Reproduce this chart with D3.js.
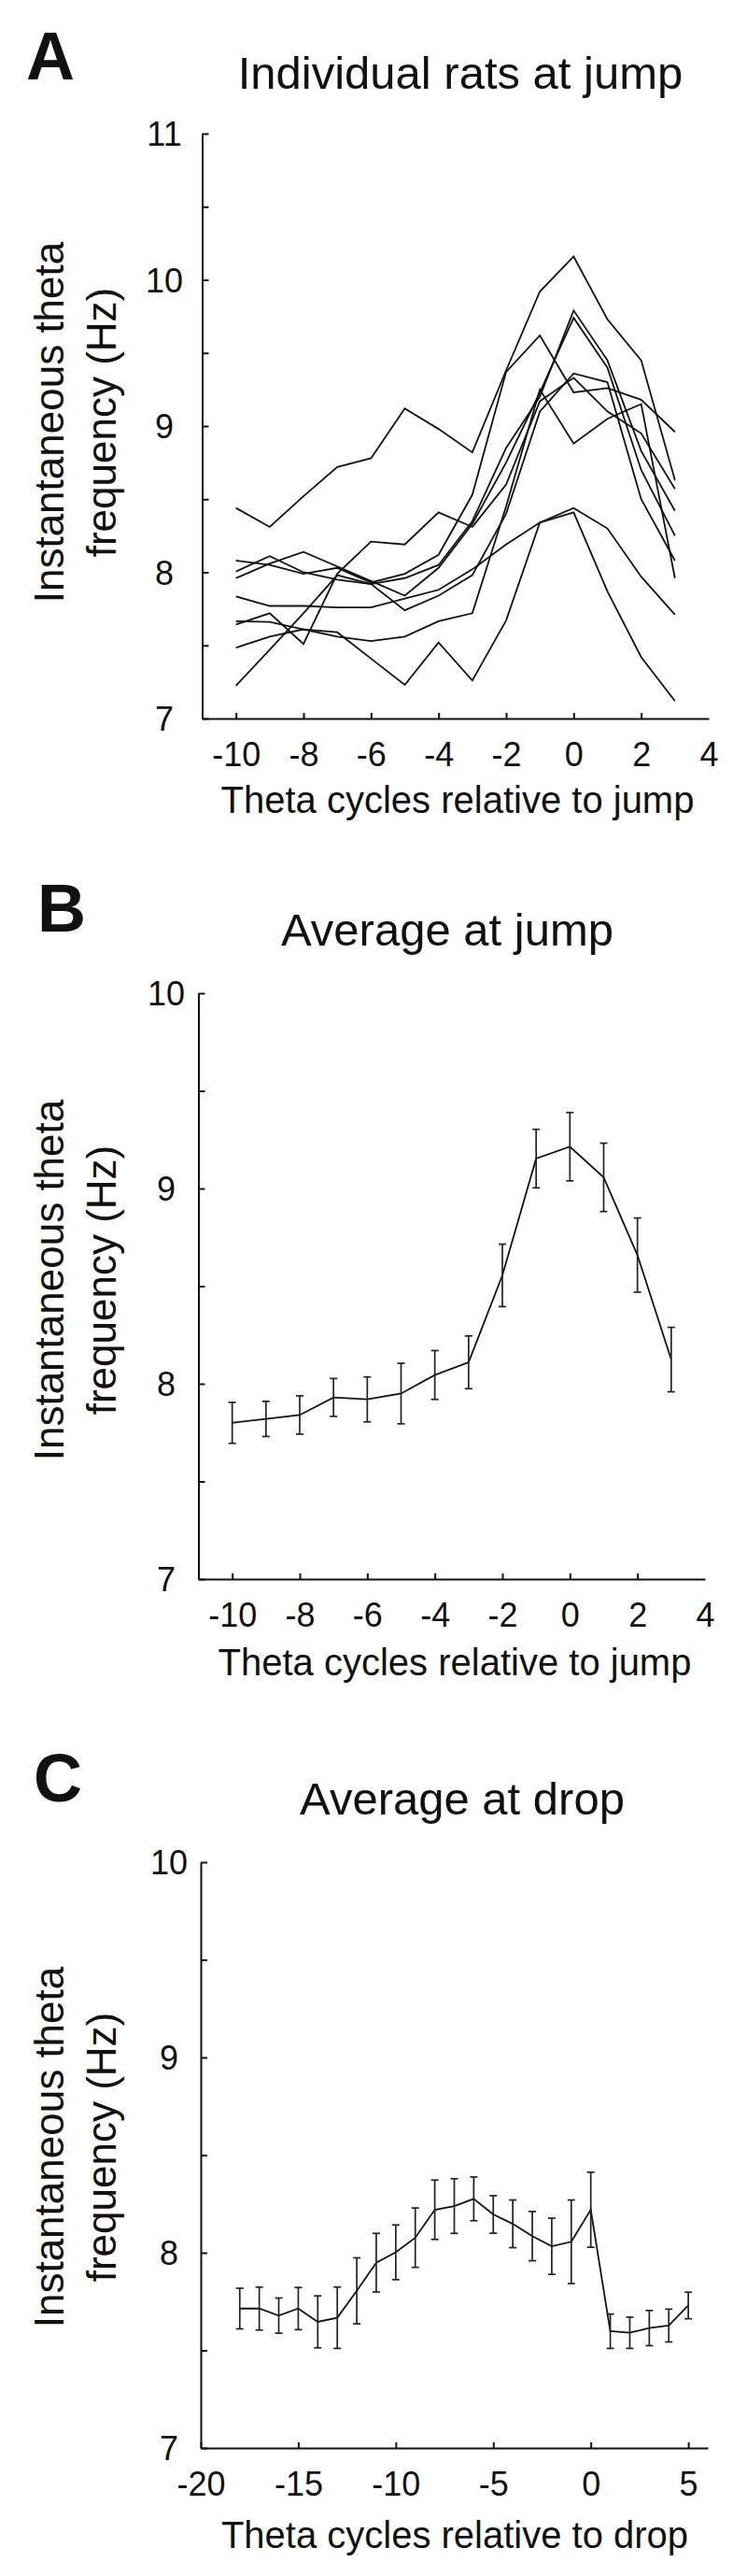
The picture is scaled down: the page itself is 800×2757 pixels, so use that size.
<!DOCTYPE html>
<html><head><meta charset="utf-8">
<script src="https://cdn.jsdelivr.net/npm/d3@7"></script>
<style>
html,body{margin:0;padding:0;background:#fff;}
svg{display:block;}
text{font-family:"Liberation Sans",Arial,Helvetica,sans-serif;fill:#111;}
</style>
</head><body>
<svg id="chart" width="800" height="2757"></svg>
<script>
// ---------- DATA ----------
const jumpCycles = [-10,-9,-8,-7,-6,-5,-4,-3,-2,-1,0,1,2,3];
const rat1 = [8.44,8.31,8.52,8.72,8.78,9.12,8.98,8.82,9.38,9.92,10.16,9.73,9.45,8.63];
const rat2 = [8.08,8.05,7.99,8.03,7.93,7.99,8.12,8.53,9.37,9.62,9.23,9.26,9.18,8.96];
const rat3 = [8.005,8.11,8.00,7.95,7.92,7.96,8.05,8.35,8.85,9.20,9.79,9.45,8.83,8.42];
const rat4 = [7.96,8.06,8.14,8.04,7.94,7.84,8.03,8.33,8.75,9.23,9.74,9.40,8.70,8.25];
const rat5 = [7.835,7.77,7.77,7.76,7.76,7.82,7.88,8.02,8.19,8.34,8.44,8.30,7.97,7.71];
const rat6 = [7.643,7.72,7.51,7.99,8.21,8.19,8.41,8.31,8.60,9.17,9.33,9.10,8.95,8.57];
const rat7 = [7.484,7.56,7.61,7.56,7.53,7.56,7.665,7.72,8.45,9.25,8.88,9.05,9.15,7.96];
const rat8 = [7.665,7.66,7.61,7.59,7.41,7.23,7.52,7.26,7.67,8.34,8.41,7.87,7.42,7.12];
const rat9 = [7.224,7.47,7.72,7.98,7.92,7.74,7.84,7.98,8.40,9.10,9.36,9.30,8.50,8.08];
const ratSeries = [rat1,rat2,rat3,rat4,rat5,rat6,rat7,rat8,rat9];

const jumpMean = [7.80,7.82,7.84,7.93,7.92,7.95,8.045,8.11,8.555,9.153,9.214,9.057,8.659,8.124];
const jumpSem  = [0.105,0.09,0.098,0.097,0.115,0.155,0.125,0.135,0.16,0.15,0.175,0.175,0.19,0.165];

const dropCycles = [-18,-17,-16,-15,-14,-13,-12,-11,-10,-9,-8,-7,-6,-5,-4,-3,-2,-1,0,1,2,3,4,5];
const dropMean = [7.714,7.714,7.678,7.714,7.646,7.667,7.805,7.949,8.002,8.077,8.22,8.239,8.276,8.196,8.148,8.085,8.033,8.056,8.22,7.598,7.59,7.614,7.627,7.73];
const dropSem  = [0.104,0.11,0.09,0.108,0.133,0.157,0.169,0.15,0.14,0.152,0.152,0.14,0.112,0.096,0.122,0.126,0.144,0.214,0.192,0.088,0.08,0.09,0.084,0.068];

const jumpXTicks = [-10,-8,-6,-4,-2,0,2,4];
const dropXTicks = [-20,-15,-10,-5,0,5];
const yTicksA = [7,7.5,8,8.5,9,9.5,10,10.5,11];
const yTicksBC = [7,7.5,8,8.5,9,9.5,10];

const panelLetters = ["A","B","C"];
const titles = ["Individual rats at jump","Average at jump","Average at drop"];
const xLabels = ["Theta cycles relative to jump","Theta cycles relative to jump","Theta cycles relative to drop"];
const yLabelLines = ["Instantaneous theta","frequency (Hz)"];

// ---------- LAYOUT ----------
const svg = d3.select("#chart");
const INK = "#111";

const panels = [
  {letter:{x:28,y:85}, title:{x:493,y:95}, xl:{x:490,y:870},
   x0:216.5,x1:759, y0:769,y1:143, xdom:[-11,4], ydom:[7,11],
   yTicks:yTicksA, xTicks:jumpXTicks, noTick:4, yLabX:176, yLabMid:452},
  {letter:{x:40,y:997}, title:{x:479,y:1012}, xl:{x:487,y:1793},
   x0:212.5,x1:755, y0:1690,y1:1063, xdom:[-11,4], ydom:[7,10],
   yTicks:yTicksBC, xTicks:jumpXTicks, noTick:4, yLabX:178, yLabMid:1370},
  {letter:{x:36,y:1928}, title:{x:495,y:1942}, xl:{x:487,y:2727},
   x0:215,x1:758, y0:2620,y1:1993, xdom:[-20,6], ydom:[7,10],
   yTicks:yTicksBC, xTicks:dropXTicks, noTick:null, yLabX:181, yLabMid:2298}
];

function drawFrame(p, i){
  const x = d3.scaleLinear().domain(p.xdom).range([p.x0,p.x1]);
  const y = d3.scaleLinear().domain(p.ydom).range([p.y0,p.y1]);

  svg.append("text").attr("x",p.letter.x).attr("y",p.letter.y)
    .attr("font-size",72).attr("font-weight","bold").text(panelLetters[i]);
  svg.append("text").attr("x",p.title.x).attr("y",p.title.y)
    .attr("text-anchor","middle").attr("font-size",49).text(titles[i]);
  svg.append("text").attr("x",p.xl.x).attr("y",p.xl.y)
    .attr("text-anchor","middle").attr("font-size",40).text(xLabels[i]);

  const yl = svg.append("g").attr("transform",`translate(0,${p.yLabMid}) rotate(-90)`);
  yl.append("text").attr("x",0).attr("y",68).attr("text-anchor","middle")
    .attr("font-size",44).text(yLabelLines[0]);
  yl.append("text").attr("x",0).attr("y",124).attr("text-anchor","middle")
    .attr("font-size",44).text(yLabelLines[1]);

  // y axis
  const gy = svg.append("g").attr("transform",`translate(${p.x0},0)`)
    .call(d3.axisLeft(y).tickValues(p.yTicks).tickSizeInner(-7).tickSizeOuter(0)
      .tickFormat(d => Number.isInteger(d) ? String(d) : ""));
  gy.selectAll("text").attr("font-size",36).attr("font-family",null)
    .attr("text-anchor","middle").attr("x", p.yLabX - p.x0).attr("dy","0.36em").attr("fill",INK);
  gy.selectAll("path,line").attr("stroke",INK).attr("stroke-width",2);

  // x axis (hyphen-minus labels as in the original)
  const gx = svg.append("g").attr("transform",`translate(0,${p.y0})`)
    .call(d3.axisBottom(x).tickValues(p.xTicks).tickSizeInner(-6).tickSizeOuter(0)
      .tickFormat(d => String(d)));
  gx.selectAll("text").attr("font-size",36).attr("font-family",null)
    .attr("y",51).attr("dy",0).attr("fill",INK);
  gx.selectAll("path,line").attr("stroke",INK).attr("stroke-width",2);
  if (p.noTick !== null) gx.selectAll(".tick").filter(d => d === p.noTick).select("line").remove();
  svg.selectAll("g").attr("font-family",null);
  return {x,y};
}

// Panel A
{
  const {x,y} = drawFrame(panels[0],0);
  const line = d3.line().x((d,i)=>x(jumpCycles[i])).y(d=>y(d));
  svg.append("g").selectAll("path").data(ratSeries).join("path")
    .attr("d",line).attr("fill","none").attr("stroke",INK)
    .attr("stroke-width",1.8).attr("stroke-linejoin","miter");
}

function drawErrorPanel(p, idx, xs, mean, sem){
  const {x,y} = drawFrame(p, idx);
  const line = d3.line().x((d,i)=>x(xs[i])).y(d=>y(d));
  svg.append("path").datum(mean).attr("d",line).attr("fill","none")
    .attr("stroke",INK).attr("stroke-width",1.8);
  const g = svg.append("g").attr("stroke","#222").attr("stroke-width",1.7);
  const cap = 4;
  mean.forEach((m,i)=>{
    const cx = x(xs[i]), top = y(m+sem[i]), bot = y(m-sem[i]);
    g.append("line").attr("x1",cx).attr("x2",cx).attr("y1",top).attr("y2",bot);
    g.append("line").attr("x1",cx-cap).attr("x2",cx+cap).attr("y1",top).attr("y2",top);
    g.append("line").attr("x1",cx-cap).attr("x2",cx+cap).attr("y1",bot).attr("y2",bot);
  });
}
drawErrorPanel(panels[1],1,jumpCycles,jumpMean,jumpSem);
drawErrorPanel(panels[2],2,dropCycles,dropMean,dropSem);
</script>
</body></html>
